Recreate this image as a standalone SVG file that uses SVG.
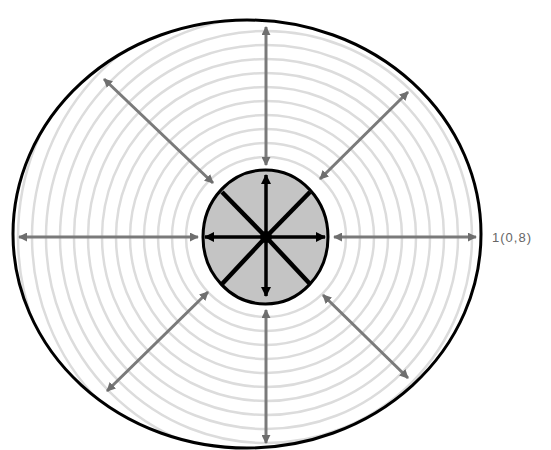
<svg xmlns="http://www.w3.org/2000/svg" width="551" height="450" viewBox="0 0 551 450">
  <style>
    .ring { fill: none; stroke: #dcdcdc; stroke-width: 2.5; }
    .garrow { stroke: #7a7a7a; stroke-width: 3; fill: none; marker-start: url(#gh); marker-end: url(#gh); }
    .barrow { stroke: #000; stroke-width: 3.5; fill: none; marker-end: url(#bh); }
    .bdiag { stroke: #000; stroke-width: 4.5; fill: none; }
    .label { font-family: "Liberation Sans", Arial, sans-serif; font-size: 13px; fill: #666; letter-spacing: 1px; }
  </style>
  <defs>
    <marker id="gh" viewBox="0 0 10 10" refX="9" refY="5" markerWidth="9" markerHeight="9" markerUnits="userSpaceOnUse" orient="auto-start-reverse">
      <path d="M0,0 L10,5 L0,10 z" fill="#6e6e6e"/>
    </marker>
    <marker id="bh" viewBox="0 0 10 10" refX="9" refY="5" markerWidth="11" markerHeight="10" markerUnits="userSpaceOnUse" orient="auto">
      <path d="M0,0 L10,5 L0,10 z" fill="#000"/>
    </marker>
    <clipPath id="outerClip">
      <ellipse cx="247" cy="234" rx="234" ry="214"/>
    </clipPath>
  </defs>
  <rect width="551" height="450" fill="#fff"/>
  <g id="rings" clip-path="url(#outerClip)">
    <circle class="ring" cx="266" cy="237" r="80"/>
    <circle class="ring" cx="266" cy="237" r="94"/>
    <circle class="ring" cx="266" cy="237" r="108"/>
    <circle class="ring" cx="266" cy="237" r="122"/>
    <circle class="ring" cx="266" cy="237" r="136"/>
    <circle class="ring" cx="266" cy="237" r="150"/>
    <circle class="ring" cx="266" cy="237" r="164"/>
    <circle class="ring" cx="266" cy="237" r="178"/>
    <circle class="ring" cx="266" cy="237" r="192"/>
    <circle class="ring" cx="266" cy="237" r="206"/>
    <circle class="ring" cx="266" cy="237" r="220"/>
    <circle class="ring" cx="266" cy="237" r="234"/>
    <circle class="ring" cx="266" cy="237" r="248"/>
  </g>
  <g id="outer">
    <ellipse cx="247" cy="234" rx="234" ry="214" fill="none" stroke="#000" stroke-width="3"/>
  </g>
  <g id="connectors">
    <line class="garrow" x1="334" y1="237" x2="476" y2="237"/>
    <line class="garrow" x1="198" y1="237" x2="19" y2="237"/>
    <line class="garrow" x1="266" y1="165" x2="266" y2="27"/>
    <line class="garrow" x1="266" y1="310" x2="266" y2="443"/>
    <line class="garrow" x1="213" y1="183" x2="104" y2="79"/>
    <line class="garrow" x1="320" y1="179" x2="408" y2="92"/>
    <line class="garrow" x1="208" y1="292" x2="107" y2="391"/>
    <line class="garrow" x1="323" y1="295" x2="408" y2="378"/>
  </g>
  <g id="inner">
    <ellipse cx="265.5" cy="237" rx="62.5" ry="67" fill="#c4c4c4" stroke="#000" stroke-width="3"/>
    <line class="barrow" x1="266" y1="237" x2="266" y2="175"/>
    <line class="barrow" x1="266" y1="237" x2="266" y2="296"/>
    <line class="barrow" x1="266" y1="237" x2="205" y2="237"/>
    <line class="barrow" x1="266" y1="237" x2="325" y2="237"/>
    <line class="bdiag" x1="266" y1="237" x2="222" y2="192"/>
    <line class="bdiag" x1="266" y1="237" x2="310" y2="192"/>
    <line class="bdiag" x1="266" y1="237" x2="222" y2="284"/>
    <line class="bdiag" x1="266" y1="237" x2="310" y2="284"/>
    <circle cx="266" cy="237" r="6" fill="#000"/>
  </g>
  <g id="label">
    <text class="label" x="492" y="242">1(0,8)</text>
  </g>
</svg>
